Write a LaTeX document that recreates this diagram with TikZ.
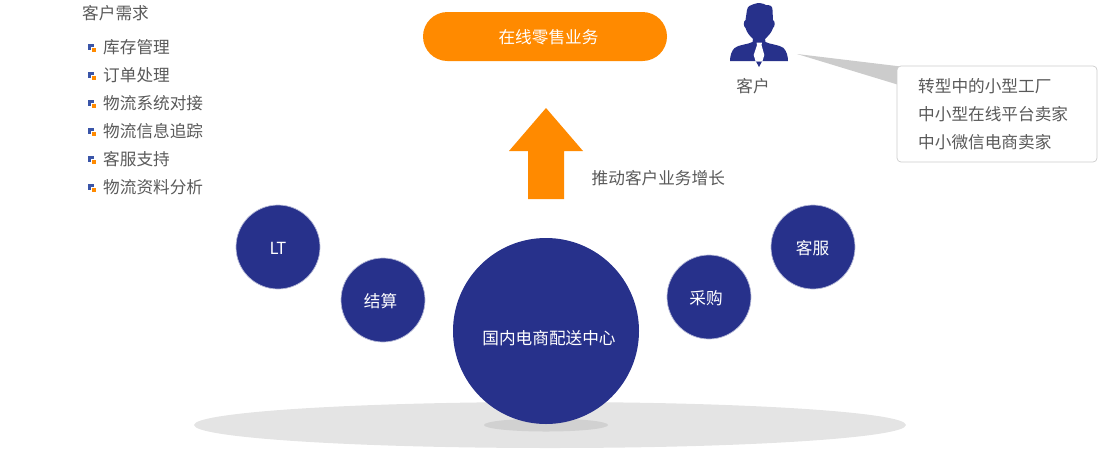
\documentclass[tikz,border=0pt]{standalone}
\usepackage{fontspec}
\setmainfont{Noto Sans CJK SC}
\definecolor{navy}{HTML}{27318B}
\definecolor{bulblue}{HTML}{3A55A8}
\definecolor{orng}{HTML}{FF8A00}
\definecolor{txt}{HTML}{595959}
\tikzset{
  lbl/.style={text=txt,font=\fontsize{16.65}{18}\selectfont,inner sep=0pt},
  lblleft/.style={lbl,anchor=west},
  circle text/.style={text=white,font=\fontsize{16.65}{18}\selectfont,inner sep=0pt},
  small circle/.style={circle,fill=navy,draw=navy!35,line width=0.7pt,minimum size=84pt,inner sep=0pt},
  big circle/.style={circle,fill=navy,minimum size=186pt,inner sep=0pt},
}
\newcommand{\bul}[2]{%
  \fill[bulblue] (#1-3,#2-3) rectangle (#1+3,#2+3);
  \fill[white] (#1,#2) rectangle (#1+4.5,#2+4.5);
  \fill[orng] (#1+0.8,#2+1) rectangle (#1+4.5,#2+4.5);
}
\begin{document}
\begin{tikzpicture}[x=1pt,y=-1pt]
\useasboundingbox (0,0) rectangle (1100,448);
% ground
\fill[black!10.5] (550,425) ellipse [x radius=356,y radius=23];
\fill[black!18] (546,425) ellipse [x radius=62,y radius=6.5];
\node[big circle] (center) at (546,331) {};
\node[circle text] (centert) at (549,338) {国内电商配送中心};
% satellite circles
\node[small circle] (lt) at (278,247) {};
\node[circle text] at (278,248) {LT};
\node[small circle] (js) at (383,300) {};
\node[circle text] at (380.5,301) {结算};
\node[small circle] (cg) at (709,297) {};
\node[circle text] at (706,298) {采购};
\node[small circle] (kf) at (813,247) {};
\node[circle text] at (812.5,248) {客服};
% top pill
\node[fill=orng,rounded corners=24.5pt,minimum width=244pt,minimum height=49pt,inner sep=0pt] (biz) at (545,36.5) {};
\node[circle text] at (548.5,37) {在线零售业务};
% arrow
\fill[orng] (546,108) -- (583,151) -- (564,151) -- (564,199) -- (528,199) -- (528,151) -- (509,151) -- cycle;
\node[lblleft] (push) at (591.5,178) {推动客户业务增长};
% needs list
\node[lblleft] (needs) at (82,13) {客户需求};
\foreach \y/\t in {47/库存管理,75/订单处理,103/物流系统对接,131/物流信息追踪,159/客服支持,187/物流资料分析}{
  \bul{91}{\y}
  \node[lblleft] at (103,\y) {\t};
}
% person
\fill[navy] (747,10) .. controls (747.5,6) and (751,5) .. (754,4)
  .. controls (758,2.5) and (763,3) .. (766,5)
  .. controls (770.5,5) and (772.5,6) .. (772.5,10) -- (773,20)
  .. controls (775,21) and (775.5,26) .. (773,28)
  .. controls (771.5,33) and (768,36) .. (765,39) -- (765.5,42)
  .. controls (770,44.5) and (779,44.5) .. (783.5,48)
  .. controls (786.5,51) and (788,56) .. (788,61)
  -- (730,61)
  .. controls (730,56) and (731.5,51) .. (734.5,48)
  .. controls (739,44.5) and (748,44.5) .. (752.5,42) -- (753,39)
  .. controls (750,36) and (747,33) .. (745.5,28)
  .. controls (743,26) and (743.5,21) .. (745.5,20) -- cycle;
\fill[white] (756.5,42.5) -- (762,42.5) -- (761.5,45) -- (764.3,55) -- (762.5,61) -- (755.5,61) -- (753.7,55) -- (757,45) -- cycle;
\fill[navy] (756,61.5) -- (762,61.5) -- (759,67) -- cycle;
\node[lbl] (cust) at (753,86) {客户};
% callout
\fill[black!20] (797,54) -- (905,67) -- (899,85) -- cycle;
\node[draw=black!20,fill=white,rounded corners=4pt,minimum width=200pt,minimum height=96pt,inner sep=0pt,line width=0.7pt] (box) at (997,114) {};
\node[lblleft] (c1) at (918,86.5) {转型中的小型工厂};
\node[lblleft] (c2) at (918,114.5) {中小型在线平台卖家};
\node[lblleft] (c3) at (918,142.5) {中小微信电商卖家};
\end{tikzpicture}
\end{document}
